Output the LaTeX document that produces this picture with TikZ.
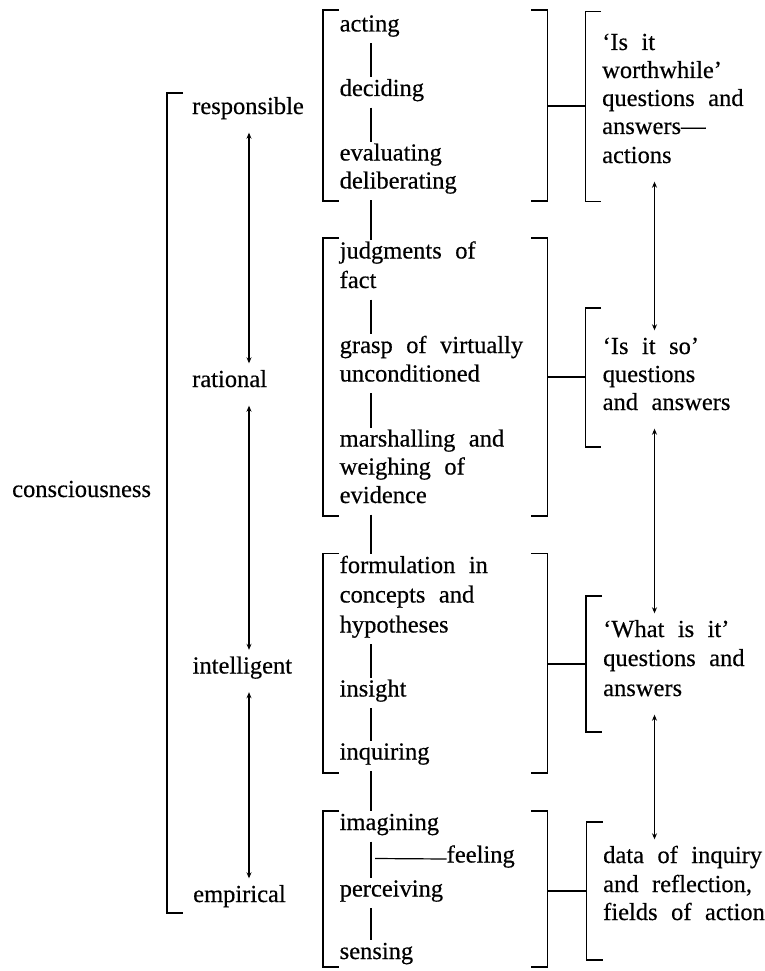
\documentclass[tikz,border=0pt]{standalone}
\usepackage{fontspec}
\setmainfont[WordSpace=2.2,FakeBold=0.4]{Liberation Serif}
\usetikzlibrary{arrows.meta}
\begin{document}
\begin{tikzpicture}[x=1pt,y=-1pt,
  txt/.style={anchor=base west, inner xsep=0pt, inner ysep=2pt, text height=16.5pt, text depth=9.5pt, font=\fontsize{24.5}{28}\selectfont},
  brk/.style={line width=1.7pt, line join=miter},
  conn/.style={line width=1.5pt},
  hconn/.style={line width=1.2pt},
  dbl/.style={line width=1.2pt, {Stealth[length=6pt,width=5pt]}-{Stealth[length=6pt,width=5pt]}, shorten <=7pt, shorten >=5pt}]
\useasboundingbox (0,0) rectangle (764,971);

% left column
\node[txt] (consc) at (12,497) {consciousness};
\node[txt] (resp) at (192,114) {responsible};
\node[txt] (rat) at (192,387) {rational};
\node[txt] (intel) at (192.5,673.5) {intelligent};
\node[txt] (emp) at (193,902) {empirical};
\draw[brk] (183,93) -- (167,93) -- (167,913) -- (183,913);
\coordinate (ax) at (249,0);
\draw[dbl] (resp.south -| ax) -- (rat.north -| ax);
\draw[dbl] (rat.south -| ax) -- (intel.north -| ax);
\draw[dbl] (intel.south -| ax) -- (emp.north -| ax);

% middle column
\node[txt] (acting) at (339.5,31.5) {acting};
\node[txt] (deciding) at (339.5,96) {deciding};
\node[txt] (evaluating) at (339.5,160.5) {evaluating};
\node[txt] (deliberating) at (339.5,188.5) {deliberating};
\node[txt] (judgments) at (339.5,258.5) {judgments of};
\node[txt] (fact) at (339.5,288) {fact};
\node[txt] (grasp) at (339.5,353) {grasp of virtually};
\node[txt] (uncond) at (339.5,381.5) {unconditioned};
\node[txt] (marsh) at (339.5,446.5) {marshalling and};
\node[txt] (weigh) at (339.5,474.5) {weighing of};
\node[txt] (evid) at (339.5,503) {evidence};
\node[txt] (formul) at (339.5,573) {formulation in};
\node[txt] (concepts) at (339.5,602.5) {concepts and};
\node[txt] (hypo) at (339.5,632.5) {hypotheses};
\node[txt] (insight) at (339.5,696.5) {insight};
\node[txt] (inquiring) at (339.5,759.5) {inquiring};
\node[txt] (imagining) at (339.5,830) {imagining};
\node[txt] (perceiving) at (339.5,896.5) {perceiving};
\node[txt] (sensing) at (339.5,959) {sensing};
\node[txt] (feeling) at (446.5,862.5) {feeling};

\draw[brk] (339,10) -- (323,10) -- (323,201) -- (339,201);
\draw[brk] (531,10) -- (547.5,10) -- (547.5,201) -- (531,201);
\draw[brk] (339,238) -- (323,238) -- (323,516) -- (339,516);
\draw[brk] (531,238) -- (547.5,238) -- (547.5,516) -- (531,516);
\draw[brk] (339,553.5) -- (323,553.5) -- (323,773) -- (339,773);
\draw[brk] (531,553.5) -- (547.5,553.5) -- (547.5,773) -- (531,773);
\draw[brk] (339,811) -- (323,811) -- (323,967) -- (339,967);
\draw[brk] (531,811) -- (547.5,811) -- (547.5,967) -- (531,967);

\coordinate (mx) at (371,0);
\draw[conn] (acting.south -| mx) -- (deciding.north -| mx);
\draw[conn] (deciding.south -| mx) -- (evaluating.north -| mx);
\draw[conn] (deliberating.south -| mx) -- (judgments.north -| mx);
\draw[conn] (fact.south -| mx) -- (grasp.north -| mx);
\draw[conn] (uncond.south -| mx) -- (marsh.north -| mx);
\draw[conn] (evid.south -| mx) -- (formul.north -| mx);
\draw[conn] (hypo.south -| mx) -- (insight.north -| mx);
\draw[conn] (insight.south -| mx) -- (inquiring.north -| mx);
\draw[conn] (inquiring.south -| mx) -- (imagining.north -| mx);
\draw[conn] (imagining.south -| mx) -- (perceiving.north -| mx);
\draw[conn] (perceiving.south -| mx) -- (sensing.north -| mx);
\coordinate (fstart) at (375,858.5);
\draw[hconn] (fstart) -- (feeling.west);

% right column
\node[txt] (r1a) at (602,50) {‘Is it};
\node[txt] (r1b) at (602,78) {worthwhile’};
\node[txt] (r1c) at (602,106) {questions and};
\node[txt] (r1d) at (602,134) {answers—};
\node[txt] (r1e) at (602,163) {actions};
\node[txt] (r2a) at (602.5,354) {‘Is it so’};
\node[txt] (r2b) at (602.5,382) {questions};
\node[txt] (r2c) at (602.5,410) {and answers};
\node[txt] (r3a) at (603,637) {‘What is it’};
\node[txt] (r3b) at (603,666) {questions and};
\node[txt] (r3c) at (603,696) {answers};
\node[txt] (r4a) at (603,863) {data of inquiry};
\node[txt] (r4b) at (603,892) {and reflection,};
\node[txt] (r4c) at (603,920) {fields of action};

\draw[brk] (601,11.5) -- (585.5,11.5) -- (585.5,201.5) -- (601,201.5);
\draw[brk] (601,308) -- (585.5,308) -- (585.5,447) -- (601,447);
\draw[brk] (602,596) -- (586,596) -- (586,732) -- (602,732);
\draw[brk] (602.5,822) -- (586.5,822) -- (586.5,960) -- (602.5,960);

\coordinate (g1r) at (547.5,106);
\coordinate (g2r) at (547.5,377);
\coordinate (g3r) at (547.5,664);
\coordinate (g4r) at (547.5,891);
\coordinate (q1l) at (585.5,106);
\coordinate (q2l) at (585.5,377);
\coordinate (q3l) at (586,664);
\coordinate (q4l) at (586.5,891);
\draw[hconn] (g1r) -- (q1l);
\draw[hconn] (g2r) -- (q2l);
\draw[hconn] (g3r) -- (q3l);
\draw[hconn] (g4r) -- (q4l);

\coordinate (rx) at (654.5,0);
\draw[dbl] (r1e.south -| rx) -- (r2a.north -| rx);
\draw[dbl] (r2c.south -| rx) -- (r3a.north -| rx);
\draw[dbl] (r3c.south -| rx) -- (r4a.north -| rx);
\end{tikzpicture}
\end{document}
